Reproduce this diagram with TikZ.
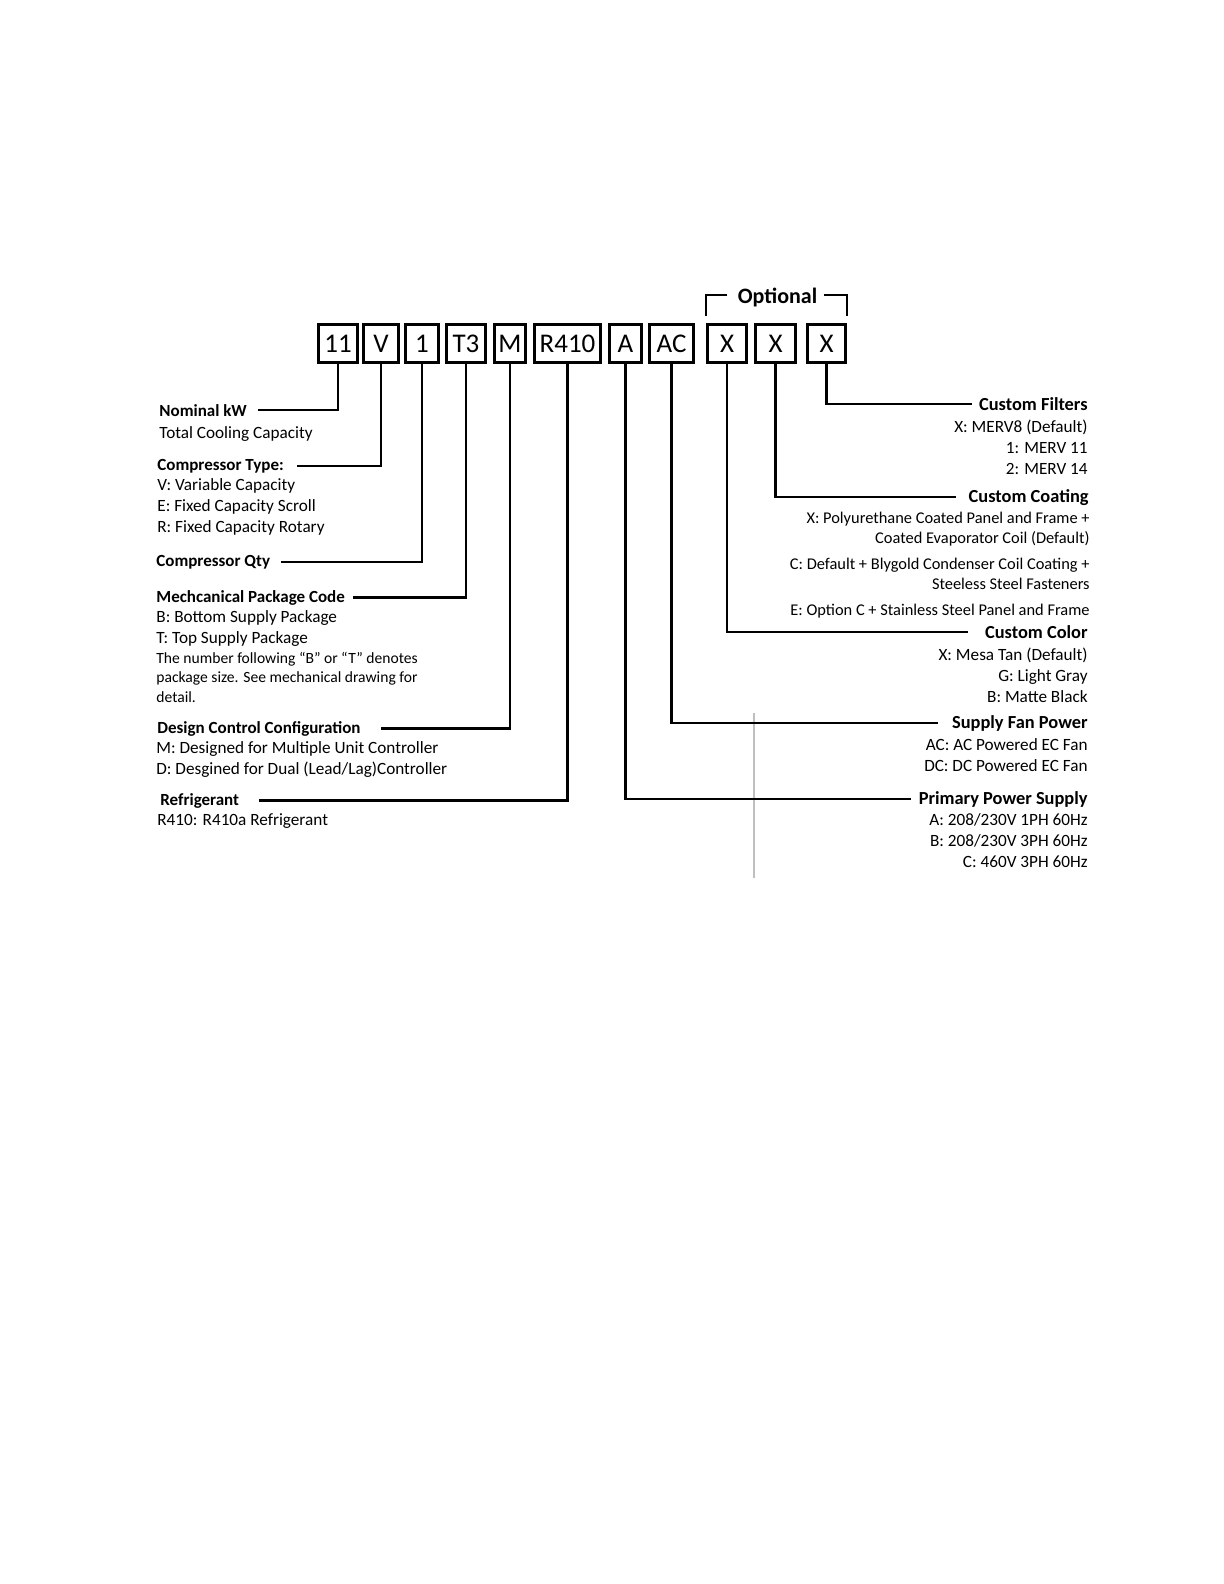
\documentclass[tikz,border=0pt]{standalone}
\usepackage{fontspec}
\setmainfont{Carlito}

\begin{document}
\begin{tikzpicture}[x=0.5pt, y=-0.5pt,
    cell/.style={draw, line width=1.3pt, minimum height=19.2pt, inner sep=0pt, font=\fontsize{13.5}{16}\selectfont},
    head/.style={inner sep=0pt, anchor=base west, font=\bfseries\fontsize{8.5}{10.5}\selectfont},
    rhead/.style={inner sep=0pt, anchor=base east, font=\bfseries\fontsize{9.2}{11}\selectfont},
    desc/.style={inner sep=0pt, anchor=base west, align=left, font=\fontsize{8.6}{10.5}\selectfont},
    rdesc/.style={inner sep=0pt, anchor=base east, align=right, font=\fontsize{8.6}{10.5}\selectfont},
    note/.style={inner sep=0pt, anchor=base west, align=left, font=\fontsize{7.8}{9.75}\selectfont},
    wire/.style={line width=1.1pt}]
    \useasboundingbox (0,0) rectangle (1224,1584);

    % code boxes
    \node (a) at (338,343.5) [cell, minimum width=19.7pt] {11};
    \node (b) at (381,343.5) [cell, minimum width=17.7pt] {V};
    \node (c) at (422,343.5) [cell, minimum width=16.7pt] {1};
    \node (d) at (466,343.5) [cell, minimum width=19.7pt] {T3};
    \node (e) at (510,343.5) [cell, minimum width=15.7pt] {M};
    \node (f) at (567.5,343.5) [cell, minimum width=33.2pt] {R410};
    \node (g) at (625.5,343.5) [cell, minimum width=16.2pt] {A};
    \node (h) at (671.5,343.5) [cell, minimum width=22.2pt] {AC};
    \node (i) at (727,343.5) [cell, minimum width=19.7pt] {X};
    \node (j) at (775.5,343.5) [cell, minimum width=20.2pt] {X};
    \node (k) at (826.5,343.5) [cell, minimum width=19.2pt] {X};

    \node (opt) at (777.5,297) [inner sep=0pt, font=\bfseries\fontsize{11}{13}\selectfont] {Optional};
    \draw[wire] ([xshift=-5pt,yshift=1pt]opt.west) -| ([yshift=3.5pt]i.north west);
    \draw[wire] ([xshift=3pt,yshift=1pt]opt.east) -| ([yshift=3.5pt]k.north east);

    \draw[black!25, line width=0.6pt] (754,713) -- (754,878);

    % left side (multi-line text sits on its last baseline)
    \node (la) at (159,416) [head] {Nominal kW};
    \node (da) at (159,438) [desc] {Total Cooling Capacity};
    \draw[wire] (a.south) |- ([xshift=5.5pt]la.east);

    \node (lb) at (157,470) [head] {Compressor Type:};
    \node (db) at (157,532) [desc] {V: Variable Capacity\\E: Fixed Capacity Scroll\\R: Fixed Capacity Rotary};
    \draw[wire] (b.south) |- ([xshift=6.5pt]lb.east);

    \node (lc) at (156,566) [head] {Compressor Qty};
    \draw[wire] (c.south) |- ([xshift=5.5pt]lc.east);

    \node (ld) at (156,602) [head] {Mechcanical Package Code};
    \node (dd) at (156,643) [desc] {B: Bottom Supply Package\\T: Top Supply Package};
    \node (nd) at (156,702) [note] {The number following “B” or “T” denotes\\package size. See mechanical drawing for\\detail.};
    \draw[wire] (d.south) |- ([xshift=4pt]ld.east);

    \node (le) at (157,733) [head] {Design Control Configuration};
    \node (de) at (156,774) [desc] {M: Designed for Multiple Unit Controller\\D: Desgined for Dual (Lead/Lag)Controller};
    \draw[wire] (e.south) |- ([xshift=10pt]le.east);

    \node (lf) at (160,805) [head] {Refrigerant};
    \node (df) at (157,825) [desc] {R410: R410a Refrigerant};
    \draw[wire] (f.south) |- ([xshift=9.5pt]lf.east);

    % right side
    \node (lk) at (1088,410) [rhead] {Custom Filters};
    \node (dk) at (1088,474) [rdesc] {X: MERV8 (Default)\\1: MERV 11\\2: MERV 14};
    \draw[wire] (k.south) |- ([xshift=-3.5pt]lk.west);

    \node (lj) at (1089,502) [rhead] {Custom Coating};
    \node (dj) at (1090,615) [rdesc, font=\fontsize{8.2}{10.25}\selectfont] {X: Polyurethane Coated Panel and Frame +\\Coated Evaporator Coil (Default)\\[2.5pt]C: Default + Blygold Condenser Coil Coating +\\Steeless Steel Fasteners\\[2.5pt]E: Option C + Stainless Steel Panel and Frame};
    \draw[wire] (j.south) |- ([xshift=-6pt]lj.west);

    \node (li) at (1088,638) [rhead] {Custom Color};
    \node (di) at (1088,702) [rdesc] {X: Mesa Tan (Default)\\G: Light Gray\\B: Matte Black};
    \draw[wire] (i.south) |- ([xshift=-8.5pt]li.west);

    \node (lh) at (1088,728) [rhead] {Supply Fan Power};
    \node (dh) at (1088,771) [rdesc] {AC: AC Powered EC Fan\\DC: DC Powered EC Fan};
    \draw[wire] (h.south) |- ([xshift=-7pt]lh.west);

    \node (lg) at (1088,804) [rhead] {Primary Power Supply};
    \node (dg) at (1088,867) [rdesc] {A: 208/230V 1PH 60Hz\\B: 208/230V 3PH 60Hz\\C: 460V 3PH 60Hz};
    \draw[wire] (g.south) |- ([xshift=-3.5pt]lg.west);
\end{tikzpicture}
\end{document}
